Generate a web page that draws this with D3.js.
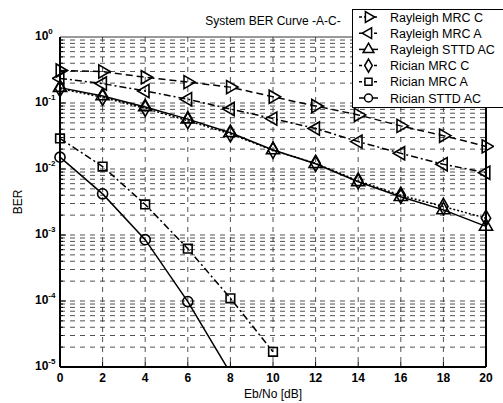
<!DOCTYPE html>
<html>
<head>
<meta charset="utf-8">
<title>System BER Curve</title>
<script src="https://cdn.jsdelivr.net/npm/d3@7"></script>
<style>
body{margin:0;background:#fff;}
text{font-family:"Liberation Sans",Arial,sans-serif;fill:#000;}
</style>
</head>
<body>
<script>
var w=503, h=403;

// Eb/No points
var ebno=[0,2,4,6,8,10,12,14,16,18,20];

// BER per curve
var rayMrcC =[0.31,0.30,0.245,0.207,0.174,0.124,0.090,0.066,0.045,0.032,0.022];
var rayMrcA =[0.236,0.197,0.152,0.114,0.081,0.058,0.041,0.026,0.0173,0.0118,0.0088];
var raySttd =[0.171,0.128,0.087,0.057,0.0354,0.0194,0.0120,0.0064,0.0038,0.0024,0.00135];
var ricMrcC =[0.165,0.122,0.083,0.054,0.0340,0.0192,0.0122,0.0066,0.0040,0.0027,0.0018];
var ricMrcAx=[0,2,4,6,8,10];
var ricMrcA =[0.029,0.0109,0.0029,0.00062,0.00011,0.000017];
var ricSttdx=[0,2,4,6,8];
var ricSttd =[0.0151,0.0042,0.00085,0.000098,0.0000081];

var names=["Rayleigh MRC C","Rayleigh MRC A","Rayleigh STTD AC","Rician MRC C","Rician MRC A","Rician STTD AC"];

var series=[
  {name:names[0],x:ebno,y:rayMrcC,dash:"7,4",sym:d3.symbolTriangle,rot:90},
  {name:names[1],x:ebno,y:rayMrcA,dash:"7,3,2,3",sym:d3.symbolTriangle,rot:-90},
  {name:names[2],x:ebno,y:raySttd,dash:null,sym:d3.symbolTriangle,rot:0},
  {name:names[3],x:ebno,y:ricMrcC,dash:"2,2",sym:d3.symbolDiamond,rot:0},
  {name:names[4],x:ricMrcAx,y:ricMrcA,dash:"7,3,2,3",sym:d3.symbolSquare,rot:0},
  {name:names[5],x:ricSttdx,y:ricSttd,dash:null,sym:d3.symbolCircle,rot:0}
];

var L=60, R=486, T=37, B=367;

var x=d3.scaleLinear().domain([0,20]).range([L,R]);
var y=d3.scaleLog().domain([1e-5,1]).range([B,T]);

var svg=d3.select("body").append("svg").attr("width",w).attr("height",h);

// grid
var grid=svg.append("g").attr("stroke","#000").attr("stroke-width",0.8)
  .attr("stroke-dasharray","5,5").attr("opacity",0.85);
grid.selectAll("line.gx").data(d3.range(2,20,2)).enter().append("line")
  .attr("x1",d=>x(d)).attr("x2",d=>x(d)).attr("y1",T).attr("y2",B);
var minor=[];
for(var e=-5;e<0;e++){ for(var m=1;m<10;m++){ if(!(e==-5&&m==1)) minor.push(m*Math.pow(10,e)); } }
grid.selectAll("line.gy").data(minor).enter().append("line")
  .attr("x1",L).attr("x2",R).attr("y1",d=>y(d)).attr("y2",d=>y(d));

// inner ticks
var ticks=svg.append("g").attr("stroke","#000").attr("stroke-width",1);
ticks.selectAll("line.ty").data(minor).enter().append("line")
  .attr("x1",L).attr("x2",d=>L+(Math.abs(Math.log10(d)-Math.round(Math.log10(d)))<1e-6?6:3))
  .attr("y1",d=>y(d)).attr("y2",d=>y(d));
ticks.selectAll("line.tx").data(d3.range(2,20,2)).enter().append("line")
  .attr("x1",d=>x(d)).attr("x2",d=>x(d)).attr("y1",B).attr("y2",B-5);

// box
svg.append("line").attr("x1",L).attr("x2",R).attr("y1",T).attr("y2",T).attr("stroke","#000").attr("stroke-width",0.8);
svg.append("line").attr("x1",L).attr("x2",L).attr("y1",T).attr("y2",B).attr("stroke","#000").attr("stroke-width",2);
svg.append("line").attr("x1",L).attr("x2",R).attr("y1",B).attr("y2",B).attr("stroke","#000").attr("stroke-width",2);
svg.append("line").attr("x1",R).attr("x2",R).attr("y1",T).attr("y2",B).attr("stroke","#000").attr("stroke-width",2);

// clip
svg.append("clipPath").attr("id","clip").append("rect")
  .attr("x",L-8).attr("y",T-8).attr("width",R-L+16).attr("height",B-T+8);

var line=d3.line().x(d=>x(d[0])).y(d=>y(d[1]));
var plot=svg.append("g").attr("clip-path","url(#clip)");

series.forEach(function(s){
  var pts=s.x.map((v,i)=>[v,s.y[i]]);
  plot.append("path").datum(pts).attr("d",line)
    .attr("fill","none").attr("stroke","#000").attr("stroke-width",1.5)
    .attr("stroke-dasharray",s.dash);
  plot.selectAll(null).data(pts.filter(p=>p[1]>=1e-5)).enter().append("path")
    .attr("d",d3.symbol().type(s.sym).size(s.sym===d3.symbolCircle?80:75))
    .attr("transform",p=>"translate("+x(p[0])+","+y(p[1])+") rotate("+s.rot+")")
    .attr("fill","none").attr("stroke","#000").attr("stroke-width",1.6);
});

// x tick labels
svg.selectAll("text.xt").data(d3.range(0,21,2)).enter().append("text")
  .attr("x",d=>x(d)).attr("y",B+15).attr("text-anchor","middle")
  .attr("font-size",12).attr("font-weight","bold").text(d=>d);

// y tick labels 10^k
var decs=[0,-1,-2,-3,-4,-5];
var yt=svg.selectAll("text.yt").data(decs).enter().append("text")
  .attr("x",L-25).attr("y",d=>y(Math.pow(10,d))+3)
  .attr("font-size",12).attr("font-weight","bold");
yt.append("tspan").text("10");
yt.append("tspan").attr("dy",-6).attr("font-size",8).text(d=>d);

// titles
svg.append("text").attr("x",(L+R)/2).attr("y",25).attr("text-anchor","middle")
  .attr("font-size",12).text("System BER Curve -A-C-");
svg.append("text").attr("x",(L+R)/2).attr("y",398).attr("text-anchor","middle")
  .attr("font-size",12).text("Eb/No [dB]");
svg.append("text").attr("transform","translate(22,"+((T+B)/2)+") rotate(-90)")
  .attr("text-anchor","middle").attr("font-size",12).text("BER");

// legend
var lg=svg.append("g");
lg.append("rect").attr("x",352.5).attr("y",9.5).attr("width",160).attr("height",98)
  .attr("fill","#fff").attr("stroke","#000").attr("stroke-width",1);
series.forEach(function(s,i){
  var yy=17+i*16.2;
  lg.append("line").attr("x1",359).attr("x2",378).attr("y1",yy).attr("y2",yy)
    .attr("stroke","#000").attr("stroke-width",1.5).attr("stroke-dasharray",s.dash?"3,2":null);
  lg.append("path").attr("d",d3.symbol().type(s.sym).size(50))
    .attr("transform","translate(368.5,"+yy+") rotate("+s.rot+")")
    .attr("fill","#fff").attr("stroke","#000").attr("stroke-width",1.5);
  lg.append("text").attr("x",390).attr("y",yy+4.5).attr("font-size",12.5).text(s.name);
});
</script>
</body>
</html>
